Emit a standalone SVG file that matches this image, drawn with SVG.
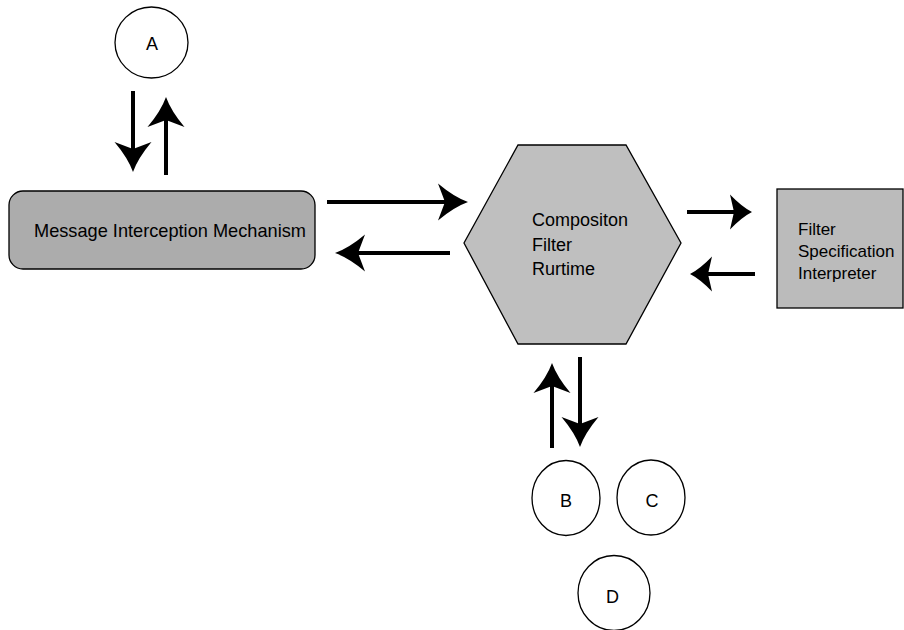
<svg xmlns="http://www.w3.org/2000/svg" width="904" height="630" viewBox="0 0 904 630">
  <style>
    .lbl { font-family: "Liberation Sans", Arial, sans-serif; fill: #000; }
    .circle { fill: #fff; stroke: #000; stroke-width: 1.3; }
    .shape { stroke: #000; stroke-width: 1.3; }
    .flow { stroke: #000; stroke-width: 4; fill: none; }
  </style>
  <defs>
    <!-- swept arrowhead; origin sits at the notch, tip points along +x -->
    <marker id="head" markerUnits="userSpaceOnUse" markerWidth="44" markerHeight="44" viewBox="-12 -22 44 44" refX="0" refY="0" orient="auto" overflow="visible">
      <path d="M23,0 Q9,-5 -7,-18.5 L0,0 L-7,18.5 Q9,5 23,0 Z" fill="#000"/>
    </marker>
    <marker id="head-short" markerUnits="userSpaceOnUse" markerWidth="40" markerHeight="40" viewBox="-10 -20 40 40" refX="0" refY="0" orient="auto" overflow="visible">
      <path d="M18,0 Q8,-5 -4,-17.5 L0,0 L-4,17.5 Q8,5 18,0 Z" fill="#000"/>
    </marker>
  </defs>

  <rect width="904" height="630" fill="#fff"/>

  <!-- connectors -->
  <g id="connectors">
    <!-- A <-> Message Interception Mechanism -->
    <line class="flow" x1="133" y1="91" x2="133" y2="149" marker-end="url(#head)"/>
    <line class="flow" x1="166" y1="175" x2="166" y2="120" marker-end="url(#head)"/>
    <!-- Mechanism <-> Runtime -->
    <line class="flow" x1="327" y1="202" x2="445" y2="202" marker-end="url(#head)"/>
    <line class="flow" x1="450" y1="253" x2="358" y2="253" marker-end="url(#head)"/>
    <!-- Runtime <-> Interpreter -->
    <line class="flow" x1="687" y1="212" x2="734" y2="212" marker-end="url(#head-short)"/>
    <line class="flow" x1="755" y1="274" x2="708" y2="274" marker-end="url(#head-short)"/>
    <!-- Runtime <-> B -->
    <line class="flow" x1="552" y1="448" x2="552" y2="386" marker-end="url(#head)"/>
    <line class="flow" x1="580" y1="357" x2="580" y2="424" marker-end="url(#head)"/>
  </g>

  <g id="node-a">
    <ellipse class="circle" cx="151.5" cy="42.5" rx="36.5" ry="35.5"/>
    <text class="lbl" x="152" y="50" font-size="18" text-anchor="middle">A</text>
  </g>

  <g id="node-mechanism">
    <rect class="shape" x="9" y="191" width="306" height="78" rx="14" ry="14" fill="#acacac"/>
    <text class="lbl" x="34" y="236.5" font-size="18.2">Message Interception Mechanism</text>
  </g>

  <g id="node-runtime">
    <polygon class="shape" points="518,145 626,145 681,243 626,344 518,344 464,243" fill="#bfbfbf"/>
    <text class="lbl" font-size="18">
      <tspan x="532" y="226">Compositon</tspan>
      <tspan x="532" y="251">Filter</tspan>
      <tspan x="532" y="275">Rurtime</tspan>
    </text>
  </g>

  <g id="node-interpreter">
    <rect class="shape" x="777" y="189" width="126" height="119" fill="#bbbbbb"/>
    <text class="lbl" font-size="17">
      <tspan x="798" y="235">Filter</tspan>
      <tspan x="798" y="257">Specification</tspan>
      <tspan x="798" y="278.5">Interpreter</tspan>
    </text>
  </g>

  <g id="node-b">
    <ellipse class="circle" cx="566" cy="498" rx="34" ry="37.5"/>
    <text class="lbl" x="566" y="507" font-size="18" text-anchor="middle">B</text>
  </g>

  <g id="node-c">
    <ellipse class="circle" cx="651" cy="497.5" rx="34" ry="37.5"/>
    <text class="lbl" x="652" y="507" font-size="18" text-anchor="middle">C</text>
  </g>

  <g id="node-d">
    <ellipse class="circle" cx="614" cy="593" rx="36" ry="37.5"/>
    <text class="lbl" x="612.5" y="603" font-size="18" text-anchor="middle">D</text>
  </g>
</svg>
